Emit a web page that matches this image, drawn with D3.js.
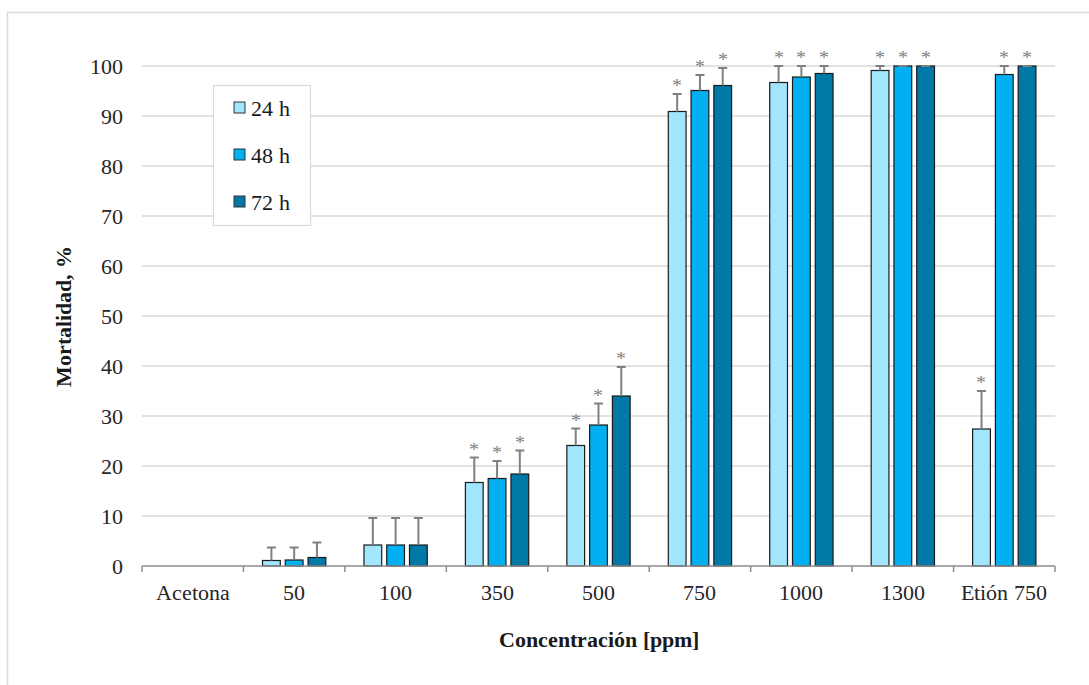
<!DOCTYPE html>
<html>
<head>
<meta charset="utf-8">
<script src="https://cdn.jsdelivr.net/npm/d3@7"></script>
<style>
  @font-face { font-family: "ChartSerif"; src: local("Liberation Serif"), local("LiberationSerif"); font-weight: normal; }
  @font-face { font-family: "ChartSerif"; src: local("Liberation Serif Bold"), local("LiberationSerif-Bold"); font-weight: bold; }
  body { margin: 0; background: #fff; }
  svg text.t2 { font-family: "ChartSerif", "Liberation Serif"; }
</style>
</head>
<body>
<div id="chart"></div>
<script>
// categories and series
const categories = ["Acetona", "50", "100", "350", "500", "750", "1000", "1300", "Etión 750"];
const seriesNames = ["24 h", "48 h", "72 h"];
const h24 = [0, 1.1, 4.2, 16.7, 24.1, 90.9, 96.7, 99.1, 27.4];
const h48 = [0, 1.2, 4.2, 17.5, 28.2, 95.1, 97.8, 100, 98.3];
const h72 = [0, 1.7, 4.2, 18.4, 34.0, 96.1, 98.5, 100, 100];
// upper error (sd)
const e24 = [0, 2.6, 5.4, 5.0, 3.4, 3.5, 3.5, 1.0, 7.6];
const e48 = [0, 2.5, 5.4, 3.5, 4.3, 3.1, 2.5, 0, 1.8];
const e72 = [0, 3.0, 5.4, 4.7, 5.8, 3.5, 1.8, 0, 0];
// significance marks (*)
const sig = [false, false, false, true, true, true, true, true, true];
const yTicks = [0, 10, 20, 30, 40, 50, 60, 70, 80, 90, 100];
const colors = ["#a1e6fd", "#00b0f0", "#0079a6"];

const W = 1089, H = 685;
const margin = {top: 66, right: 34, bottom: 119, left: 142};
const width = W - margin.left - margin.right;
const height = H - margin.top - margin.bottom;

const values = [h24, h48, h72];
const errors = [e24, e48, e72];
const data = categories.map((c, i) => ({
    cat: c,
    sig: sig[i],
    bars: seriesNames.map((s, j) => ({s: s, j: j, v: values[j][i], e: errors[j][i]}))
}));

const svg = d3.select("#chart").append("svg")
    .attr("width", W)
    .attr("height", H);

// outer frame (cut off right and bottom)
svg.append("path")
    .attr("d", `M7.5,${H} V12.5 H${W}`)
    .attr("fill", "none")
    .attr("stroke", "#d9d9d9")
    .attr("stroke-width", 1.5);

const chart = svg.append("g")
    .attr("transform", `translate(${margin.left}, ${margin.top})`);

const x0 = d3.scaleBand().domain(categories).range([0, width]);
const groupW = x0.bandwidth() * 0.624;
const x1 = d3.scaleBand().domain(seriesNames)
    .range([(x0.bandwidth() - groupW) / 2, (x0.bandwidth() + groupW) / 2])
    .paddingInner(0.22);
const y = d3.scaleLinear().domain([0, 100]).range([height, 0]).clamp(true);

// gridlines
chart.append("g")
    .selectAll("line")
    .data(yTicks.filter(d => d > 0))
    .join("line")
    .attr("x1", 0).attr("x2", width)
    .attr("y1", d => y(d)).attr("y2", d => y(d))
    .attr("stroke", "#d9d9d9")
    .attr("stroke-width", 1.5);

// y axis labels
const yAxis = d3.axisLeft(y).tickValues(yTicks).tickSize(0).tickPadding(19);
chart.append("g")
    .call(yAxis)
    .attr("font-family", null)
    .call(g => g.select(".domain").remove())
    .selectAll("text")
    .attr("font-size", 22)
    .attr("fill", "#262626");

// bars
const groups = chart.selectAll(".group")
    .data(data)
    .join("g")
    .attr("class", "group")
    .attr("transform", d => `translate(${x0(d.cat)}, 0)`);

groups.selectAll("rect")
    .data(d => d.bars.filter(b => b.v > 0))
    .join("rect")
    .attr("x", b => x1(b.s))
    .attr("y", b => y(b.v))
    .attr("width", x1.bandwidth())
    .attr("height", b => height - y(b.v))
    .attr("fill", b => colors[b.j])
    .attr("stroke", "#1a1a1a")
    .attr("stroke-width", 1.2);

// error bars
const eb = groups.selectAll(".err")
    .data(d => d.bars.filter(b => b.v > 0))
    .join("g")
    .attr("class", "err")
    .attr("stroke", "#808080")
    .attr("stroke-width", 2);
eb.append("line")
    .attr("x1", b => x1(b.s) + x1.bandwidth() / 2)
    .attr("x2", b => x1(b.s) + x1.bandwidth() / 2)
    .attr("y1", b => y(b.v))
    .attr("y2", b => y(b.v + b.e));
eb.append("line")
    .attr("x1", b => x1(b.s) + x1.bandwidth() / 2 - 4.5)
    .attr("x2", b => x1(b.s) + x1.bandwidth() / 2 + 4.5)
    .attr("y1", b => y(b.v + b.e))
    .attr("y2", b => y(b.v + b.e));

// significance stars
groups.filter(d => d.sig)
    .selectAll(".star")
    .data(d => d.bars.filter(b => b.v > 0))
    .join("text")
    .attr("class", "star")
    .attr("x", b => x1(b.s) + x1.bandwidth() / 2)
    .attr("y", b => y(b.v + b.e) - 2)
    .attr("text-anchor", "middle")
    .attr("font-size", 20)
    .attr("fill", "#7f7f7f")
    .text("*");

// x axis
const xAxis = d3.axisBottom(x0).tickSize(0).tickPadding(0);
const xg = chart.append("g")
    .attr("transform", `translate(0, ${height})`)
    .call(xAxis)
    .attr("font-family", null);
xg.select(".domain").attr("stroke", "#8c8c8c").attr("stroke-width", 1.5)
    .attr("d", `M0,0H${width}`);
xg.selectAll("text")
    .attr("font-size", 22)
    .attr("fill", "#262626")
    .attr("dy", null)
    .attr("y", 34);
xg.selectAll(".boundary")
    .data(d3.range(categories.length + 1))
    .join("line")
    .attr("x1", i => i * x0.step()).attr("x2", i => i * x0.step())
    .attr("y1", 0).attr("y2", 6)
    .attr("stroke", "#8c8c8c")
    .attr("stroke-width", 1.5);

// axis titles
svg.append("text")
    .attr("x", margin.left + width / 2)
    .attr("y", 647)
    .attr("text-anchor", "middle")
    .attr("font-size", 22)
    .attr("font-weight", "bold")
    .attr("fill", "#1a1a1a")
    .text("Concentración [ppm]");
svg.append("text")
    .attr("transform", `translate(71, ${margin.top + height / 2}) rotate(-90)`)
    .attr("text-anchor", "middle")
    .attr("font-size", 22)
    .attr("font-weight", "bold")
    .attr("fill", "#1a1a1a")
    .text("Mortalidad, %");

// legend
const legend = svg.append("g").attr("transform", "translate(213, 85)");
legend.append("rect")
    .attr("x", 0.5).attr("y", 0.5)
    .attr("width", 97).attr("height", 140)
    .attr("fill", "#fff")
    .attr("stroke", "#d9d9d9")
    .attr("stroke-width", 1.2);
const items = legend.selectAll(".item")
    .data(seriesNames)
    .join("g")
    .attr("class", "item")
    .attr("transform", (d, i) => `translate(21, ${23 + i * 47})`);
items.append("rect")
    .attr("x", 0).attr("y", -6)
    .attr("width", 11).attr("height", 11)
    .attr("fill", (d, i) => colors[i])
    .attr("stroke", "#333")
    .attr("stroke-width", 1);
items.append("text")
    .attr("x", 17)
    .attr("y", 8)
    .attr("font-size", 22)
    .attr("fill", "#1a1a1a")
    .text(d => d);

// serif font on every text
svg.selectAll("text").classed("t2", true);
</script>
</body>
</html>
